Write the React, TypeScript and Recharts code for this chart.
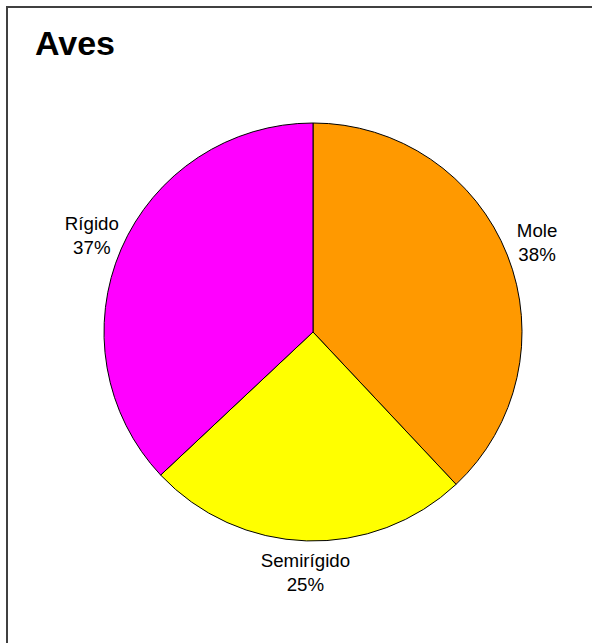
import { PieChart, Pie, Cell } from "recharts"

const categories = ["Mole", "Semirígido", "Rígido"]
const shares = [38, 25, 37]
const colors = ["#FF9900", "#FFFF00", "#FF00FF"]

const data = categories.map((name, i) => ({ name, value: shares[i] }))

const RADIAN = Math.PI / 180

// eslint-disable-next-line @typescript-eslint/no-explicit-any
function SliceLabel({ cx, cy, midAngle, outerRadius, index }: any) {
  const r = outerRadius + 32
  const x = cx + r * Math.cos(-midAngle * RADIAN)
  const y = cy + r * Math.sin(-midAngle * RADIAN)
  return (
    <text
      x={x}
      y={y}
      textAnchor="middle"
      fontFamily="'Liberation Sans', Arial, sans-serif"
      fontSize={18.7}
      fill="#000"
    >
      <tspan x={x} dy={-6}>{categories[index]}</tspan>
      <tspan x={x} dy={24}>{shares[index]}%</tspan>
    </text>
  )
}

export default function App() {
  return (
    <div
      style={{
        position: "absolute",
        left: 0,
        top: 0,
        width: 592,
        height: 643,
        background: "#fff",
        overflow: "hidden",
      }}
    >
      <div
        style={{
          position: "absolute",
          left: 6,
          top: 6,
          width: 700,
          height: 700,
          borderLeft: "2px solid #404040",
          borderTop: "2px solid #404040",
        }}
      />
      <div
        style={{
          position: "absolute",
          left: 35,
          top: 23,
          fontFamily: "'Liberation Sans', Arial, sans-serif",
          fontWeight: "bold",
          fontSize: 34,
          lineHeight: "40px",
          color: "#000",
        }}
      >
        Aves
      </div>
      <PieChart
        width={592}
        height={643}
        margin={{ top: 0, right: 0, bottom: 0, left: 0 }}
        style={{ position: "absolute", left: 0, top: 0 }}
      >
        <Pie
          data={data}
          dataKey="value"
          nameKey="name"
          cx={313}
          cy={332}
          outerRadius={209}
          startAngle={90}
          endAngle={-270}
          stroke="#000"
          strokeWidth={1}
          label={SliceLabel}
          labelLine={false}
          isAnimationActive={false}
        >
          {data.map((d, i) => (
            <Cell key={d.name} fill={colors[i]} />
          ))}
        </Pie>
      </PieChart>
    </div>
  )
}
